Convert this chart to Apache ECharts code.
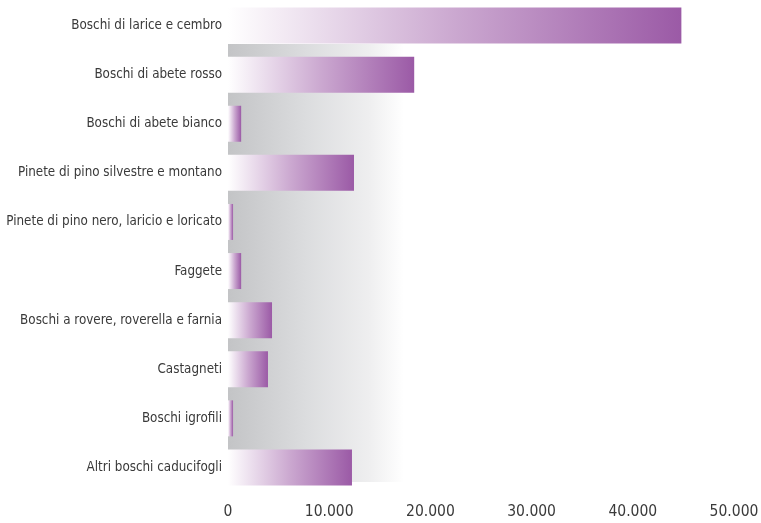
<!DOCTYPE html>
<html>
<head>
<meta charset="utf-8">
<script src="https://cdn.jsdelivr.net/npm/echarts@6/dist/echarts.min.js"></script>
<style>
  html, body { margin: 0; padding: 0; background: #fff; }
  #chart { width: 761px; height: 523px; }
</style>
</head>
<body>
<div id="chart"></div>
<script>
// categorie (dall'alto verso il basso)
const categories = [
  'Boschi di larice e cembro',
  'Boschi di abete rosso',
  'Boschi di abete bianco',
  'Pinete di pino silvestre e montano',
  'Pinete di pino nero, laricio e loricato',
  'Faggete',
  'Boschi a rovere, roverella e farnia',
  'Castagneti',
  'Boschi igrofili',
  'Altri boschi caducifogli'
];
// superficie stimata
const values = [44800, 18400, 1300, 12450, 500, 1300, 4350, 3950, 500, 12250];
const xTicks = [0, 10000, 20000, 30000, 40000, 50000];

const fontFamily = '"Liberation Sans Narrow", "DejaVu Sans Condensed", sans-serif';

const chart = echarts.init(document.getElementById('chart'), null, { renderer: 'canvas' });

const option = {
  backgroundColor: '#ffffff',
  animation: false,
  grid: {
    left: 228,
    right: 27,
    top: 1,
    bottom: 31,
    containLabel: false,
    outerBoundsMode: 'none'
  },
  // pannello grigio sfumato dietro le barre
  graphic: [{
    type: 'rect',
    z: -10,
    silent: true,
    shape: { x: 228, y: 44, width: 200, height: 438 },
    style: {
      fill: new echarts.graphic.LinearGradient(0, 0, 1, 0, [
        { offset: 0, color: '#c3c4c6' },
        { offset: 0.4, color: '#dcdddf' },
        { offset: 0.7, color: '#eeeeef' },
        { offset: 0.88, color: '#ffffff' },
        { offset: 1, color: '#ffffff' }
      ])
    }
  }],
  xAxis: {
    type: 'value',
    min: xTicks[0],
    max: xTicks[xTicks.length - 1],
    interval: 10000,
    axisLine: { show: false },
    axisTick: { show: false },
    splitLine: { show: false },
    axisLabel: {
      margin: 12,
      fontFamily: fontFamily,
      fontSize: 15.5,
      color: '#3a3a3a',
      formatter: function (v) {
        return v === 0 ? '0' : v.toLocaleString('it-IT').replace(/,/g, '.');
      }
    }
  },
  yAxis: {
    type: 'category',
    inverse: true,
    data: categories,
    axisLine: { show: false },
    axisTick: { show: false },
    splitLine: { show: false },
    axisLabel: {
      margin: 6,
      fontFamily: fontFamily,
      fontSize: 13.3,
      color: '#3a3a3a'
    }
  },
  series: [{
    type: 'bar',
    data: values,
    barWidth: 36,
    z: 2,
    itemStyle: {
      color: new echarts.graphic.LinearGradient(0, 0, 1, 0, [
        { offset: 0, color: '#ffffff' },
        { offset: 0.5, color: '#cba8d0' },
        { offset: 1, color: '#9b5aa6' }
      ])
    }
  }]
};

chart.setOption(option);
</script>
</body>
</html>
